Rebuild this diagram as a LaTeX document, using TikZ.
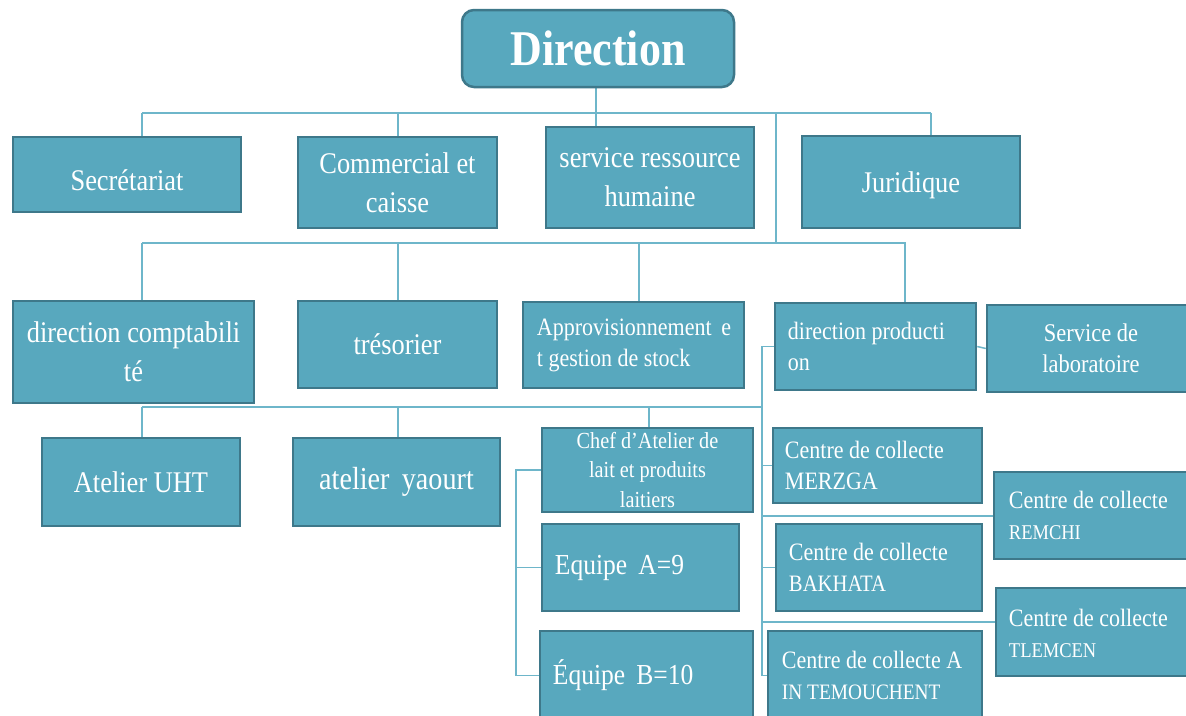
\documentclass[tikz,border=0pt]{standalone}
\usepackage{fontspec}
\setmainfont{Liberation Serif}[FakeStretch=0.88]
\usetikzlibrary{backgrounds}
\definecolor{boxfill}{HTML}{58A8BE}
\definecolor{boxline}{HTML}{3E788A}
\definecolor{conncol}{HTML}{6EB6CA}
\begin{document}
\begin{tikzpicture}[x=1pt,y=-1pt,
  box/.style={draw=boxline, line width=2.5pt, fill=boxfill, text=white, inner sep=4pt, align=center},
  lbl/.style={text=white, inner sep=0pt, align=left, anchor=west},
  conn/.style={draw=conncol, line width=1.5pt},
  fDir/.style={font=\fontsize{50}{50}\selectfont\bfseries},
  fL/.style={font=\fontsize{30}{39}\selectfont},
  fM/.style={font=\fontsize{25}{31}\selectfont},
  fS/.style={font=\fontsize{23}{29.5}\selectfont},
  fE/.style={font=\fontsize{29}{34}\selectfont}]
\useasboundingbox (0,0) rectangle (1186,715);
\clip (0,0) rectangle (1186,715);

% level 0
\node[box, fDir, rounded corners=12pt, minimum width=272pt, minimum height=77pt] (dir) at (598,48.5) {Direction};

% level 1
\node[box, fL, minimum width=228pt, minimum height=75pt] (secr) at (127,174.5) {};
\node[fL, text=white, inner sep=0pt] (secrT) at ([yshift=-6pt]secr.center) {Secrétariat};
\node[box, fL, minimum width=199pt, minimum height=91pt] (com) at (397.5,182.5) {Commercial et\\caisse};
\node[box, fL, minimum width=208pt, minimum height=101pt] (srh) at (650,177.5) {service ressource\\humaine};
\node[box, fL, minimum width=218pt, minimum height=92pt] (jur) at (911,182) {};
\node[fL, text=white, inner sep=0pt] (jurT) at ([yshift=-3pt]jur.center) {Juridique};

% level 2
\node[box, fL, minimum width=241pt, minimum height=102pt] (compta) at (133.5,352) {direction comptabili\\té};
\node[box, fL, minimum width=199pt, minimum height=87pt] (tres) at (397.5,344.5) {trésorier};
\node[box, minimum width=221pt, minimum height=86pt] (appro) at (633.5,345) {};
\node[lbl, fM] (approT) at ([xshift=15pt]appro.west) {Approvisionnement\, e\\t gestion de stock};
\node[box, minimum width=201pt, minimum height=87pt] (dprod) at (875.5,346.5) {};
\node[lbl, fM] (dprodT) at ([xshift=14pt]dprod.west) {direction producti\\on};
\node[box, font=\fontsize{25.5}{31}\selectfont, minimum width=208pt, minimum height=87pt] (labo) at (1091,348.5) {Service de\\laboratoire};

% level 3
\node[box, fL, minimum width=198pt, minimum height=88pt] (uht) at (141,482) {Atelier UHT};
\node[box, font=\fontsize{32}{39}\selectfont, minimum width=207pt, minimum height=88pt] (yaourt) at (396.5,482) {atelier\, yaourt};
\node[box, fS, minimum width=211pt, minimum height=84pt] (chef) at (647.5,470) {Chef d’Atelier de\\lait et produits\\laitiers};
\node[box, minimum width=197pt, minimum height=87pt] (eqA) at (640.5,567.5) {};
\node[lbl, fE] (eqAT) at ([xshift=14pt]eqA.west) {Equipe\, A=9};
\node[box, minimum width=213pt, minimum height=89pt] (eqB) at (646.5,675.5) {};
\node[lbl, fE] (eqBT) at ([xshift=14pt]eqB.west) {Équipe\, B=10};

% collection centres
\node[box, minimum width=209pt, minimum height=75pt] (merzga) at (877.5,465.5) {};
\node[lbl, fM] (merzgaT) at ([xshift=13pt]merzga.west) {Centre de collecte\\MERZGA};
\node[box, minimum width=201pt, minimum height=87pt] (remchi) at (1094.5,515.5) {};
\node[lbl, fM] (remchiT) at ([xshift=16pt]remchi.west) {Centre de collecte\\{\fontsize{21}{30}\selectfont REMCHI}};
\node[box, minimum width=206pt, minimum height=87pt] (bakhata) at (879,567.5) {};
\node[lbl, fM] (bakhataT) at ([xshift=14pt]bakhata.west) {Centre de collecte\\{\fontsize{23.5}{31}\selectfont BAKHATA}};
\node[box, minimum width=199pt, minimum height=88pt] (tlemcen) at (1095.5,632) {};
\node[lbl, fM] (tlemcenT) at ([xshift=14pt,yshift=-1pt]tlemcen.west) {Centre de collecte\\{\fontsize{21}{30}\selectfont TLEMCEN}};
\node[box, minimum width=214pt, minimum height=89pt] (ainT) at (875,675.5) {};
\node[lbl, fM] (ainTT) at ([xshift=15pt]ainT.west) {Centre de collecte A\\{\fontsize{22}{30}\selectfont IN TEMOUCHENT}};

% helper coordinates for connector columns and rows
\coordinate (xA) at (142,0);
\coordinate (xB) at (398,0);
\coordinate (xC) at (596,0);
\coordinate (xD) at (931,0);
\coordinate (xE) at (776,0);
\coordinate (xF) at (639,0);
\coordinate (xG) at (905,0);
\coordinate (xH) at (649,0);
\coordinate (xS) at (762,0);
\coordinate (xL) at (516,0);
\coordinate (y1) at (0,113);
\coordinate (y2) at (0,243);
\coordinate (y3) at (0,407);
\coordinate (yR) at (0,516);
\coordinate (yT) at (0,622);

\begin{pgfonlayer}{background}
% Direction to level 1
\draw[conn] (dir.south -| xC) -- (srh.north -| xC);
\draw[conn] (xA |- y1) -- (xD |- y1);
\draw[conn] (xA |- y1) -- (secr.north -| xA);
\draw[conn] (xB |- y1) -- (com.north -| xB);
\draw[conn] (xD |- y1) -- (jur.north -| xD);
% to level 2
\draw[conn] (xE |- y1) -- (xE |- y2);
\draw[conn] (xA |- y2) -- (xG |- y2) -- (dprod.north -| xG);
\draw[conn] (xA |- y2) -- (compta.north -| xA);
\draw[conn] (xB |- y2) -- (tres.north -| xB);
\draw[conn] (xF |- y2) -- (appro.north -| xF);
% production spine
\draw[conn] (dprod.west) -- (dprod.west -| xS) -- (ainT.west -| xS) -- (ainT.west);
\draw[conn] (dprod.east) -- (labo.west);
\draw[conn] (xA |- y3) -- (xS |- y3);
\draw[conn] (xA |- y3) -- (uht.north -| xA);
\draw[conn] (xB |- y3) -- (yaourt.north -| xB);
\draw[conn] (xH |- y3) -- (chef.north -| xH);
\draw[conn] (merzga.west -| xS) -- (merzga.west);
\draw[conn] (xS |- yR) -- (remchi.west |- yR);
\draw[conn] (bakhata.west -| xS) -- (bakhata.west);
\draw[conn] (xS |- yT) -- (tlemcen.west |- yT);
% teams bracket
\draw[conn] (chef.west) -- (chef.west -| xL) -- (eqB.west -| xL) -- (eqB.west);
\draw[conn] (eqA.west -| xL) -- (eqA.west);
\end{pgfonlayer}
\end{tikzpicture}
\end{document}
